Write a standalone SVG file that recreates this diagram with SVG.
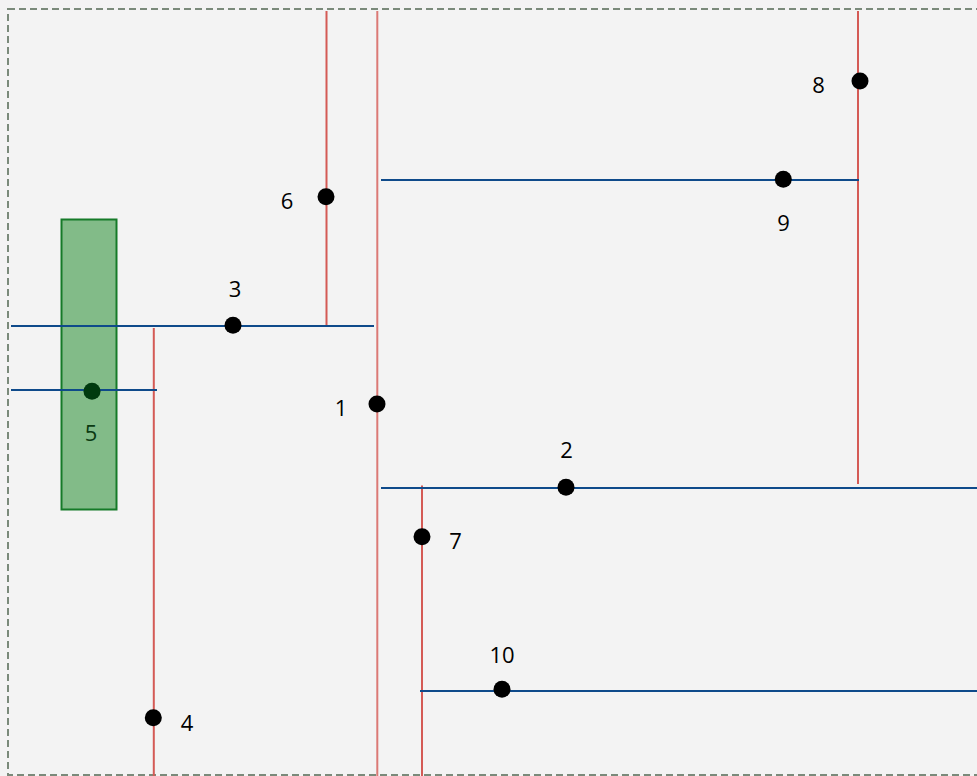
<svg xmlns="http://www.w3.org/2000/svg" width="977" height="776" viewBox="0 0 977 776">
<style>
.red{stroke:#d45a55;stroke-width:2;fill:none}
.blue{stroke:#0e4a8a;stroke-width:2;fill:none}
.dot{fill:#000}
.lbl{font-family:"Open Sans","Noto Sans",sans-serif;font-size:22px;fill:#000;text-anchor:middle}
</style>
<rect x="0" y="0" width="977" height="776" fill="#f3f3f3"/>
<rect x="8" y="9" width="1000" height="766" fill="none" stroke="#7a8a7a" stroke-width="2" stroke-dasharray="7,4"/>
<g id="shelf">
<rect x="61.5" y="219.5" width="55" height="290" fill="#82bb88" stroke="#157a28" stroke-width="2"/>
</g>
<g id="connectors">
<line class="red" x1="326.5" y1="11" x2="326.5" y2="326"/>
<line class="red" x1="377.3" y1="11" x2="377.3" y2="776" stroke-opacity="0.8"/>
<line class="red" x1="858" y1="11" x2="858" y2="484"/>
<line class="red" x1="153.8" y1="328" x2="153.8" y2="776"/>
<line class="red" x1="422" y1="485.5" x2="422" y2="776"/>
<line class="blue" x1="11" y1="326" x2="374" y2="326"/>
<line class="blue" x1="11" y1="390" x2="157" y2="390"/>
<line class="blue" x1="381" y1="180" x2="859" y2="180"/>
<line class="blue" x1="381" y1="488" x2="977" y2="488"/>
<line class="blue" x1="420" y1="691" x2="977" y2="691"/>
</g>
<g id="n1"><circle class="dot" cx="377" cy="404" r="8.5"/><text class="lbl" x="341" y="416">1</text></g>
<g id="n2"><circle class="dot" cx="566" cy="487.3" r="8.5"/><text class="lbl" x="566.5" y="458">2</text></g>
<g id="n3"><circle class="dot" cx="233" cy="325.3" r="8.5"/><text class="lbl" x="235" y="297">3</text></g>
<g id="n4"><circle class="dot" cx="153.3" cy="717.7" r="8.5"/><text class="lbl" x="187" y="731">4</text></g>
<g id="n5"><circle cx="92" cy="391.3" r="8.5" fill="#003a0e"/><text class="lbl" x="91" y="441" style="fill:#0b3a12">5</text></g>
<g id="n6"><circle class="dot" cx="326" cy="196.7" r="8.5"/><text class="lbl" x="287" y="209">6</text></g>
<g id="n7"><circle class="dot" cx="422" cy="536.7" r="8.5"/><text class="lbl" x="455.5" y="549">7</text></g>
<g id="n8"><circle class="dot" cx="860" cy="81" r="8.5"/><text class="lbl" x="818.5" y="93">8</text></g>
<g id="n9"><circle class="dot" cx="783.3" cy="179.3" r="8.5"/><text class="lbl" x="783.5" y="231">9</text></g>
<g id="n10"><circle class="dot" cx="502" cy="689.3" r="8.5"/><text class="lbl" x="502" y="663">10</text></g>
</svg>
